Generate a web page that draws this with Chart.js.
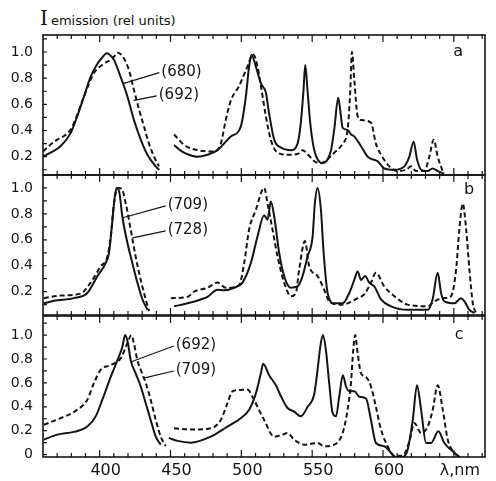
<!DOCTYPE html>
<html>
<head>
<meta charset="utf-8">
<script src="https://cdn.jsdelivr.net/npm/chart.js@4.4.0/dist/chart.umd.min.js"></script>
<style>
  body { margin: 0; background: #fff; }
  #wrap { position: relative; width: 496px; height: 481px; }
  #wrap canvas { position: absolute; left: 0; top: 0; }
  #ytitle { position: absolute; left: 40px; top: 6px; font-family: "DejaVu Sans"; font-size: 13px; color: #111; white-space: nowrap; }
  #ytitle span { font-family: "DejaVu Serif"; font-size: 20px; margin-right: 3px; }
</style>
</head>
<body>
<div id="wrap">
  <div id="ytitle"><span>I</span>emission (rel units)</div>
  <canvas id="pa" width="496" height="481"></canvas>
  <canvas id="pb" width="496" height="481"></canvas>
  <canvas id="pc" width="496" height="481"></canvas>
</div>
<script>
// wavelength ticks (nm) and intensity ticks
const xTicks = [400, 450, 500, 550, 600, 650];
const yTicksAB = [0.2, 0.4, 0.6, 0.8, 1.0];
const yTicksC = [0, 0.2, 0.4, 0.6, 0.8, 1.0];

// panel a : (680) solid, (692) dashed  -- [nm, intensity]
const a680Soret = [[360,0.20],[366,0.235],[372.4,0.28],[379.5,0.38],[384.2,0.51],[388.9,0.66],[393.6,0.81],[398.4,0.91],[402,0.96],[405,0.99],[407.5,0.975],[410.1,0.94],[414.8,0.81],[419.6,0.66],[424.2,0.48],[429,0.33],[433.7,0.215],[439.6,0.126],[442,0.10]];
const a680Q = [[452.5,0.29],[458,0.24],[463,0.215],[469,0.20],[476,0.215],[483.2,0.25],[492.6,0.355],[499.6,0.43],[503.2,0.66],[505.5,0.89],[507.2,0.98],[510.2,0.89],[513.8,0.76],[517.3,0.69],[519.6,0.53],[523.2,0.33],[527.9,0.27],[535,0.25],[539.7,0.30],[542,0.46],[543.9,0.71],[545.1,0.90],[546.7,0.71],[548.6,0.46],[551.5,0.25],[557.4,0.15],[563.3,0.25],[565.6,0.41],[568.4,0.65],[570.3,0.51],[571.5,0.42],[575,0.405],[577.4,0.37],[579.7,0.355],[584.5,0.28],[589.2,0.20],[596.2,0.165],[601,0.11],[608,0.10],[615.1,0.126],[618.6,0.20],[621.6,0.315],[624,0.18],[626.9,0.10],[631.5,0.09],[635,0.11],[638.6,0.09],[643.3,0.07]];
const a692Soret = [[360,0.24],[365,0.29],[370.1,0.33],[375,0.36],[379.5,0.405],[384.2,0.52],[388.9,0.66],[396,0.84],[403,0.91],[409,0.95],[412.9,0.995],[417.2,0.95],[420.7,0.86],[424.2,0.71],[427.8,0.56],[431.3,0.43],[434.8,0.30],[438.4,0.20],[441.9,0.126]];
const a692Q = [[452.5,0.37],[459.6,0.29],[469,0.25],[480.8,0.24],[485.5,0.30],[489,0.48],[492.6,0.63],[498.4,0.74],[503.2,0.86],[508.5,0.98],[511.4,0.89],[513.8,0.74],[517.3,0.51],[520.8,0.33],[525.6,0.23],[532.6,0.215],[539.7,0.22],[543.2,0.25],[546.7,0.22],[551.5,0.165],[556.2,0.15],[560.8,0.18],[565.6,0.23],[571.5,0.30],[575,0.405],[576.7,0.66],[578.1,1.0],[579.7,0.79],[582.1,0.51],[584.5,0.48],[591.5,0.46],[595,0.30],[598.6,0.215],[604.5,0.126],[610.4,0.09],[616.3,0.10],[619.8,0.126],[623.3,0.09],[629.2,0.09],[632.7,0.20],[635.8,0.33],[638.6,0.20],[642.1,0.09]];

// panel b : (709) solid, (728) dashed
const b709Soret = [[360.6,0.11],[367.7,0.13],[381.8,0.15],[391.3,0.19],[398.4,0.32],[404.2,0.42],[406.6,0.50],[409,0.75],[410.6,0.93],[412,1.0],[414,0.96],[416,0.78],[419.6,0.575],[423.1,0.42],[426.6,0.27],[430.2,0.14],[433.7,0.06]];
const b709Q = [[452.5,0.087],[462,0.11],[471.4,0.14],[476.1,0.16],[483.2,0.215],[487.8,0.21],[494.9,0.23],[500.8,0.27],[506.7,0.42],[511.4,0.625],[516.1,0.79],[518.5,0.755],[520.8,0.895],[523.2,0.78],[526.7,0.50],[530.2,0.32],[535,0.23],[539.7,0.24],[543.2,0.32],[546.7,0.47],[550.3,0.625],[551.9,0.88],[553.8,1.0],[556.2,0.83],[558.1,0.50],[560.9,0.19],[565.6,0.11],[571.5,0.11],[576.2,0.19],[579.7,0.29],[582.1,0.355],[584.5,0.29],[587.3,0.32],[590.3,0.27],[593.9,0.24],[598.6,0.14],[605.7,0.087],[617.5,0.06],[631.6,0.06],[635,0.14],[638.6,0.345],[641,0.19],[643.3,0.125],[650.4,0.11],[655.1,0.15],[657.5,0.125],[661,0.06],[664.5,0.035]];
const b728Soret = [[360.6,0.15],[372.4,0.17],[386.6,0.185],[393.6,0.27],[400.7,0.395],[405.4,0.47],[407.8,0.625],[410.1,0.88],[412.9,1.0],[415.5,0.995],[418.4,0.88],[421.9,0.68],[425.4,0.47],[429,0.29],[432.5,0.14],[434.8,0.05]];
const b728Q = [[450.2,0.15],[462,0.16],[466.6,0.20],[476.1,0.23],[483.2,0.27],[489,0.23],[498.4,0.25],[502,0.42],[505.5,0.68],[510.2,0.83],[516.1,1.0],[518.9,0.855],[522,0.68],[525.6,0.47],[530.2,0.27],[535,0.165],[538.5,0.19],[540.8,0.37],[544.9,0.59],[547.9,0.395],[553.8,0.32],[558.5,0.215],[562,0.125],[570.3,0.10],[575,0.11],[582.1,0.15],[586.8,0.18],[591.5,0.27],[595,0.345],[600.9,0.24],[608,0.165],[617.4,0.10],[631.5,0.087],[636.2,0.125],[642.2,0.15],[648,0.165],[651.6,0.37],[653.9,0.68],[656.3,0.88],[658.7,0.68],[661,0.37],[663.4,0.11],[665.7,0.035]];

// panel c : (692) solid, (709) dashed
const c692Soret = [[360.6,0.125],[370.1,0.167],[381.8,0.19],[391.3,0.235],[397.2,0.32],[401.9,0.46],[407.8,0.65],[412.5,0.79],[416,0.90],[418,1.0],[420,0.93],[421.9,0.79],[425.4,0.68],[429,0.57],[432.5,0.43],[436,0.29],[439.6,0.15],[443.1,0.083]];
const c692Q = [[448.8,0.14],[455,0.115],[464.3,0.10],[478.4,0.15],[490.2,0.235],[499.6,0.305],[505.5,0.375],[510.2,0.51],[513.8,0.68],[515.4,0.76],[519.6,0.665],[524.4,0.58],[527.9,0.49],[532.6,0.39],[537.3,0.36],[542,0.32],[546.8,0.40],[551.5,0.51],[553.8,0.71],[555.7,0.90],[557.6,1.0],[559.7,0.875],[562,0.60],[564.4,0.35],[566.8,0.32],[569.1,0.485],[571.7,0.665],[573.9,0.57],[576.2,0.53],[579.7,0.53],[583.3,0.485],[588,0.47],[591.5,0.29],[595,0.097],[600.9,0.07],[605.7,0.015],[609,-0.02],[614,-0.02],[617.4,0.04],[621,0.29],[624,0.58],[626.9,0.375],[630.4,0.097],[633.9,0.097],[639.1,0.195],[643.3,0.097],[650.4,0.015],[654,-0.02]];
const c709Soret = [[360.6,0.25],[372.4,0.305],[384.2,0.375],[391.3,0.46],[396,0.60],[400.7,0.71],[407.8,0.75],[414.8,0.805],[419.5,0.93],[422.4,1.0],[424.2,0.93],[426.6,0.79],[429,0.71],[432.5,0.60],[436,0.46],[439.6,0.29],[443.1,0.15],[446.6,0.07]];
const c709Q = [[452.5,0.22],[466.6,0.21],[478.4,0.22],[485.5,0.29],[490.2,0.43],[493.8,0.53],[498.4,0.54],[504.4,0.545],[507.9,0.485],[511.4,0.40],[516.1,0.29],[523.2,0.15],[529.1,0.167],[532.6,0.18],[537.3,0.125],[544.4,0.083],[553.8,0.097],[558.5,0.07],[565.6,0.083],[571.5,0.18],[575,0.375],[577.4,0.60],[579,0.875],[580.4,1.0],[582.1,0.85],[584.5,0.68],[588,0.65],[591.5,0.57],[595,0.40],[598.6,0.21],[603.3,0.07],[608,-0.01],[613.9,-0.01],[618.6,0.11],[622.1,0.265],[626.9,0.18],[631.6,0.235],[635.1,0.375],[638.6,0.58],[642.2,0.375],[645.7,0.125],[650.4,0.015],[654,-0.02]];

const INK = "#141414";
const FONT = "DejaVu Sans";

// two measured ranges, with a break between them
function joinParts(soret, q) {
  const pts = soret.map(([x, y]) => ({ x, y }));
  pts.push({ x: (soret[soret.length - 1][0] + q[0][0]) / 2, y: null });
  return pts.concat(q.map(([x, y]) => ({ x, y })));
}

// frame, inward ticks, curve labels and panel letter
const framePlugin = {
  id: "frame",
  afterDatasetsDraw(chart, args, opts) {
    const { ctx, chartArea: { left, right, top, bottom }, scales: { x, y } } = chart;
    ctx.save();
    ctx.strokeStyle = INK;
    ctx.lineWidth = 1.6;
    ctx.strokeRect(left, top, right - left, bottom - top);
    ctx.lineWidth = 1.2;
    ctx.beginPath();
    for (let nm = 370; nm <= 670; nm += 10) {
      const px = x.getPixelForValue(nm);
      const len = nm % 50 === 0 ? 7 : 4;
      ctx.moveTo(px, bottom); ctx.lineTo(px, bottom - len);
      ctx.moveTo(px, top); ctx.lineTo(px, top + len);
    }
    for (let k = Math.ceil(y.min * 10); k <= Math.floor(y.max * 10); k++) {
      const py = y.getPixelForValue(k / 10);
      ctx.moveTo(left, py); ctx.lineTo(left + 4, py);
    }
    ctx.stroke();

    ctx.fillStyle = INK;
    ctx.textBaseline = "middle";
    ctx.font = "15px '" + FONT + "'";
    (opts.notes || []).forEach(n => {
      const tx = x.getPixelForValue(n.at[0]), ty = y.getPixelForValue(n.at[1]);
      const ax = x.getPixelForValue(n.to[0]), ay = y.getPixelForValue(n.to[1]);
      ctx.textAlign = "left";
      ctx.fillText(n.text, tx, ty);
      ctx.beginPath();
      ctx.lineWidth = 1.2;
      ctx.moveTo(tx - 2, ty + 1);
      ctx.lineTo(ax, ay);
      ctx.stroke();
    });
    if (opts.letter) {
      ctx.font = "16px '" + FONT + "'";
      ctx.textAlign = "center";
      ctx.fillText(opts.letter.text, x.getPixelForValue(opts.letter.at[0]), y.getPixelForValue(opts.letter.at[1]));
    }
    ctx.restore();
  }
};

function makePanel(id, p) {
  return new Chart(document.getElementById(id), {
    type: "line",
    data: {
      datasets: [
        { label: p.names[0], data: joinParts(p.solid[0], p.solid[1]), borderColor: INK, borderWidth: 2 },
        { label: p.names[1], data: joinParts(p.dashed[0], p.dashed[1]), borderColor: INK, borderWidth: 2, borderDash: [5, 3] }
      ]
    },
    options: {
      responsive: false,
      animation: false,
      devicePixelRatio: 1,
      spanGaps: false,
      elements: { point: { radius: 0 }, line: { cubicInterpolationMode: "monotone" } },
      layout: { padding: p.pad },
      plugins: {
        legend: { display: false },
        tooltip: { enabled: false },
        frame: { notes: p.notes, letter: p.letter }
      },
      scales: {
        x: {
          type: "linear",
          min: 360, max: 672,
          display: p.showX,
          afterBuildTicks: s => { s.ticks = xTicks.map(v => ({ value: v })); },
          afterFit: s => { s.height = p.showX ? 24 : 0; },
          grid: { display: false, drawTicks: false },
          border: { display: false },
          ticks: {
            color: INK, padding: 4, labelOffset: 6, maxRotation: 0,
            font: { family: FONT, size: 16 },
            callback: v => (v === 650 ? "λ,nm" : v)
          }
        },
        y: {
          min: p.yMin, max: p.yMax,
          afterBuildTicks: s => { s.ticks = p.yTicks.map(v => ({ value: v })); },
          afterFit: s => { s.width = 43; },
          grid: { display: false, drawTicks: false },
          border: { display: false },
          ticks: {
            color: INK, padding: 10,
            font: { family: FONT, size: 14 },
            callback: v => (v === 0 ? "0" : v.toFixed(1))
          }
        }
      }
    },
    plugins: [framePlugin]
  });
}

makePanel("pa", {
  names: ["(680)", "(692)"],
  solid: [a680Soret, a680Q], dashed: [a692Soret, a692Q],
  yMin: 0.06, yMax: 1.13, yTicks: yTicksAB, showX: false,
  pad: { top: 35, bottom: 306, left: 0, right: 11 },
  notes: [
    { text: "(680)", at: [443.5, 0.85], to: [417, 0.76] },
    { text: "(692)", at: [441.7, 0.672], to: [424, 0.63] }
  ],
  letter: { text: "a", at: [653, 1.0] }
});

makePanel("pb", {
  names: ["(709)", "(728)"],
  solid: [b709Soret, b709Q], dashed: [b728Soret, b728Q],
  yMin: 0.02, yMax: 1.10, yTicks: yTicksAB, showX: false,
  pad: { top: 175, bottom: 166, left: 0, right: 11 },
  notes: [
    { text: "(709)", at: [448, 0.87], to: [416.3, 0.77] },
    { text: "(728)", at: [448, 0.677], to: [423.3, 0.615] }
  ],
  letter: { text: "b", at: [660.8, 0.985] }
});

makePanel("pc", {
  names: ["(692)", "(709)"],
  solid: [c692Soret, c692Q], dashed: [c709Soret, c709Q],
  yMin: -0.02, yMax: 1.16, yTicks: yTicksC, showX: true,
  pad: { top: 316, bottom: 0, left: 0, right: 11 },
  notes: [
    { text: "(692)", at: [453.7, 0.917], to: [421.9, 0.775] },
    { text: "(709)", at: [453.7, 0.708], to: [431, 0.64] }
  ],
  letter: { text: "c", at: [653.7, 1.0] }
});
</script>
</body>
</html>
